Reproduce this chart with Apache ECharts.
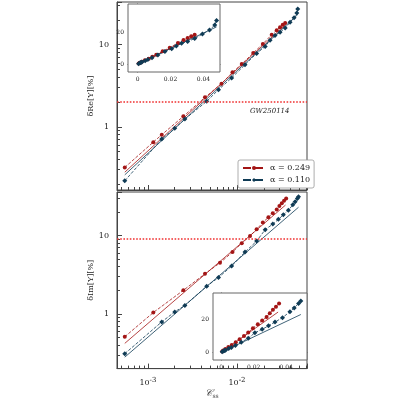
<!DOCTYPE html>
<html><head><meta charset="utf-8">
<script src="https://cdn.jsdelivr.net/npm/echarts@6/dist/echarts.min.js"></script>
<style>html,body{margin:0;background:#fff}#c{width:400px;height:400px}</style>
</head><body><div id="c"></div>
<script>
// top panel: dRe
const reRedC = [5.5e-4, 1.15e-3, 1.43e-3, 2.5e-3, 4.37e-3, 6.7e-3, 8.9e-3, 0.0113, 0.0152, 0.0195, 0.0245, 0.0279, 0.0304, 0.0326, 0.0347]
const reRedV = [0.32, 0.65, 0.80, 1.34, 2.28, 3.35, 4.6, 5.8, 7.9, 10.2, 13.2, 15.0, 16.3, 17.4, 18.3]
const reBlueC = [5.5e-4, 1.43e-3, 2.0e-3, 2.6e-3, 4.57e-3, 6.2e-3, 8.7e-3, 0.0123, 0.0166, 0.0207, 0.0235, 0.0267, 0.0304, 0.0347, 0.0394, 0.0437, 0.0469, 0.048]
const reBlueV = [0.22, 0.71, 0.96, 1.24, 2.04, 2.83, 3.93, 5.7, 7.8, 9.5, 11.3, 12.9, 14.1, 15.9, 18.7, 21.2, 24.3, 27.2]
const reRedFitC = [5.5e-4, 0.035], reRedFitV = [0.28, 17.5]
const reBlueFitC = [5.5e-4, 0.048], reBlueFitV = [0.26, 23.2]
// bottom panel: dIm
const imRedC = [5.5e-4, 1.15e-3, 2.5e-3, 4.37e-3, 6.44e-3, 8.9e-3, 0.0113, 0.014, 0.0166, 0.0195, 0.0225, 0.0252, 0.0279, 0.0299, 0.0318, 0.0337, 0.0356]
const imRedV = [0.51, 1.04, 2.0, 3.25, 4.48, 6.16, 7.96, 9.9, 12.0, 14.7, 17.1, 19.3, 21.5, 23.8, 25.9, 27.8, 29.7]
const imBlueC = [5.5e-4, 1.43e-3, 2.0e-3, 2.6e-3, 4.57e-3, 6.2e-3, 8.7e-3, 0.0123, 0.0166, 0.0207, 0.0252, 0.0291, 0.0331, 0.0377, 0.0423, 0.0449, 0.0476, 0.049]
const imBlueV = [0.31, 0.79, 1.06, 1.28, 2.26, 2.91, 4.08, 6.16, 8.5, 11.9, 14.0, 16.1, 18.4, 21.1, 24.7, 27.0, 29.7, 31.3]
const imRedFitC = [5.5e-4, 0.035], imRedFitV = [0.42, 24.5]
const imBlueFitC = [5.5e-4, 0.049], imBlueFitV = [0.28, 23]
const gwRe = 2.0, gwIm = 9.0
const alphas = ['0.249', '0.110']

const RED = '#a31515', BLUE = '#0f3b55', FONT = 'DejaVu Serif'
const zip = (a, b) => a.map((x, i) => [x, b[i]])
const zipFrom0 = (a, b) => [[0, 0]].concat(zip(a, b).slice(1))

const sup = { fontSize: 7, verticalAlign: 'top', padding: [0, 0, 6, 0], fontFamily: FONT, color: '#222' }
const logX = (gi, show) => ({
  type: 'log', gridIndex: gi, min: 4.5e-4, max: 0.061,
  axisLine: { lineStyle: { color: '#444' } },
  axisTick: { inside: true, length: 5, lineStyle: { color: '#444' } },
  minorTick: { show: true, splitNumber: 9, length: 3, lineStyle: { color: '#444' } },
  splitLine: { show: false },
  axisLabel: show ? {
    fontSize: 8, fontFamily: FONT, color: '#222', showMinLabel: false, showMaxLabel: false,
    formatter: v => '10{s|' + Math.round(Math.log10(v)) + '}', rich: { s: sup }
  } : { show: false },
  name: show ? '{c|𝒞}{s|ss}' : '', nameLocation: 'middle', nameGap: 16,
  nameTextStyle: { rich: { c: { fontSize: 10, fontFamily: FONT, fontStyle: 'italic' }, s: { fontSize: 6, fontFamily: FONT, padding: [6, 0, 0, 0] } } }
})
const logY = (gi, min, max, name) => ({
  type: 'log', gridIndex: gi, min, max,
  axisLine: { lineStyle: { color: '#444' } },
  axisTick: { inside: true, length: 5, lineStyle: { color: '#444' } },
  minorTick: { show: true, splitNumber: 9, length: 3, lineStyle: { color: '#444' } },
  splitLine: { show: false },
  axisLabel: { fontSize: 8, fontFamily: FONT, color: '#222', showMinLabel: false, showMaxLabel: false },
  name, nameLocation: 'middle', nameGap: 16,
  nameTextStyle: { fontSize: 8, fontFamily: FONT, color: '#222' }
})
const linAx = (gi, min, max, vals, fmt) => ({
  type: 'value', gridIndex: gi, min, max,
  axisLine: { lineStyle: { color: '#444' } },
  axisTick: { inside: true, length: 3, customValues: vals, lineStyle: { color: '#444' } },
  splitLine: { show: false },
  axisLabel: { fontSize: 6, fontFamily: FONT, color: '#222', margin: 4, customValues: vals, formatter: fmt }
})
const pts = (name, idx, data, color, sym) => ({
  name, type: 'line', xAxisIndex: idx, yAxisIndex: idx, data, color,
  symbol: sym, symbolSize: sym === 'diamond' ? 5 : 4, showSymbol: true,
  lineStyle: { type: 'dashed', width: 0.8, color }, itemStyle: { color }, z: 3, animation: false
})
const fit = (idx, data, color) => ({
  type: 'line', xAxisIndex: idx, yAxisIndex: idx, data, symbol: 'none',
  lineStyle: { width: 0.8, color }, z: 2, animation: false, silent: true
})
const gw = (idx, v) => ({
  type: 'line', xAxisIndex: idx, yAxisIndex: idx, data: [], animation: false,
  markLine: { symbol: 'none', silent: true, label: { show: false },
    lineStyle: { type: 'dotted', width: 1.6, color: '#f03030' }, data: [{ yAxis: v }] }
})
const nameRed = 'α = ' + alphas[0], nameBlue = 'α = ' + alphas[1]

const chart = echarts.init(document.getElementById('c'))
chart.setOption({
  backgroundColor: '#fff',
  grid: [
    { left: 117, top: 2, width: 190, height: 188, show: true, borderColor: '#444', backgroundColor: '#fff' },
    { left: 117, top: 192, width: 190, height: 189, show: true, borderColor: '#444', backgroundColor: '#fff' },
    { left: 128, top: 4, width: 92, height: 68, show: true, borderColor: '#666', backgroundColor: '#fff', z: 5 },
    { left: 213, top: 293, width: 94, height: 67, show: true, borderColor: '#666', backgroundColor: '#fff', z: 5 }
  ],
  xAxis: [logX(0, false), logX(1, true),
    linAx(2, -0.0059, 0.0501, [0, 0.02, 0.04], v => v === 0 ? '0' : String(v)),
    linAx(3, -0.0051, 0.0528, [0, 0.02, 0.04], v => v === 0 ? '0' : String(v))],
  yAxis: [logY(0, 0.17, 33, 'δRe[Υ][%]'), logY(1, 0.2, 36, 'δIm[Υ][%]'),
    linAx(2, -5, 37.5, [0, 20], v => String(v)),
    linAx(3, -4.7, 36.1, [0, 20], v => String(v))],
  legend: {
    left: 238, top: 160, orient: 'vertical', itemGap: 4, itemWidth: 22, itemHeight: 5,
    padding: [4, 4], borderColor: '#999', borderWidth: 0.8, borderRadius: 2, backgroundColor: '#fff',
    textStyle: { fontSize: 8, fontFamily: FONT, color: '#222' },
    data: [nameRed, nameBlue]
  },
  graphic: [{ type: 'text', left: 250, top: 108, style: { text: 'GW250114', fontSize: 7, fontStyle: 'italic', fontFamily: FONT, fill: '#222' } }],
  series: [
    gw(0, gwRe), gw(1, gwIm),
    fit(0, zip(reRedFitC, reRedFitV), RED), fit(0, zip(reBlueFitC, reBlueFitV), BLUE),
    pts(nameRed, 0, zip(reRedC, reRedV), RED, 'circle'), pts(nameBlue, 0, zip(reBlueC, reBlueV), BLUE, 'diamond'),
    fit(1, zip(imRedFitC, imRedFitV), RED), fit(1, zip(imBlueFitC, imBlueFitV), BLUE),
    pts(nameRed, 1, zip(imRedC, imRedV), RED, 'circle'), pts(nameBlue, 1, zip(imBlueC, imBlueV), BLUE, 'diamond'),
    Object.assign(fit(2, zipFrom0(reRedFitC, reRedFitV), RED), { z: 6 }), Object.assign(fit(2, zipFrom0(reBlueFitC, reBlueFitV), BLUE), { z: 6 }),
    Object.assign(pts(nameRed, 2, zip(reRedC, reRedV), RED, 'circle'), { z: 7 }), Object.assign(pts(nameBlue, 2, zip(reBlueC, reBlueV), BLUE, 'diamond'), { z: 7 }),
    Object.assign(fit(3, zipFrom0(imRedFitC, imRedFitV), RED), { z: 6 }), Object.assign(fit(3, zipFrom0(imBlueFitC, imBlueFitV), BLUE), { z: 6 }),
    Object.assign(pts(nameRed, 3, zip(imRedC, imRedV), RED, 'circle'), { z: 7 }), Object.assign(pts(nameBlue, 3, zip(imBlueC, imBlueV), BLUE, 'diamond'), { z: 7 })
  ]
})
</script></body></html>
